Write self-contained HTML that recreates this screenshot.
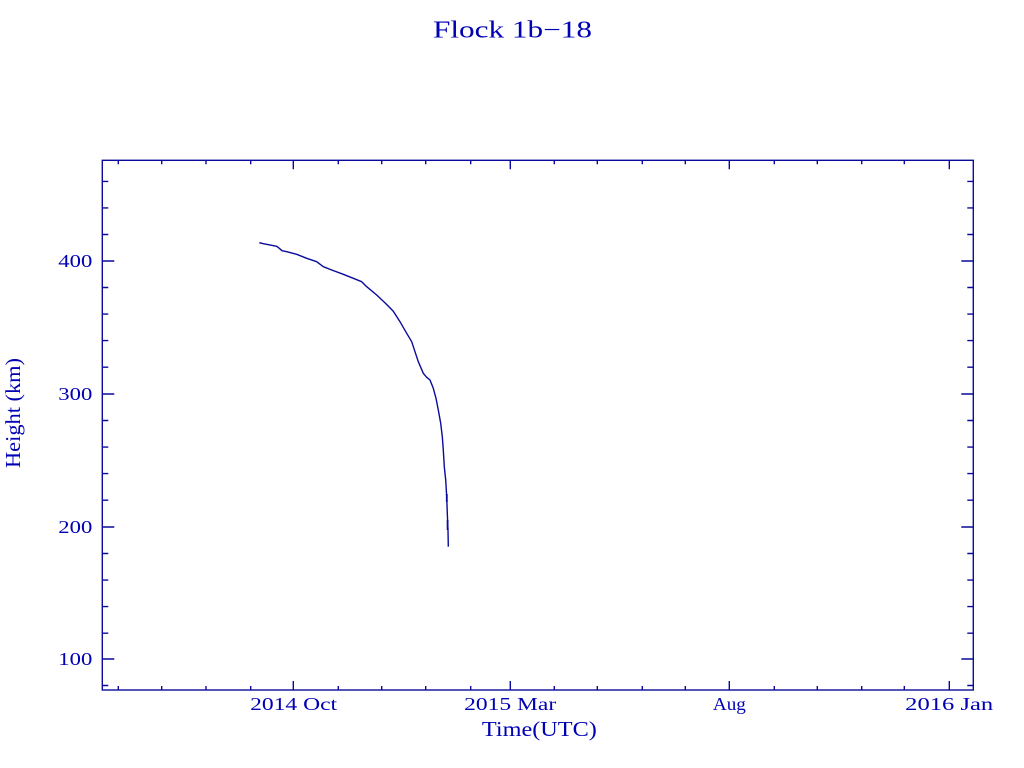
<!DOCTYPE html>
<html>
<head>
<meta charset="utf-8">
<style>
html,body{margin:0;padding:0;background:#fff;}
svg{display:block;}
text{font-family:"Liberation Serif","DejaVu Serif",serif;fill:#0000b4;}
</style>
</head>
<body>
<svg width="1024" height="768" viewBox="0 0 1024 768" xmlns="http://www.w3.org/2000/svg">
<rect x="0" y="0" width="1024" height="768" fill="#fff"/>
<text x="512.5" y="37.5" font-size="24" text-anchor="middle" textLength="159" lengthAdjust="spacingAndGlyphs">Flock 1b−18</text>

<g stroke="#0a0a9c" stroke-width="1.4" fill="none">
<rect x="102.3" y="160.3" width="871" height="529.7"/>
<path d="
M102.3 261 h12 M973.3 261 h-12
M102.3 394 h12 M973.3 394 h-12
M102.3 527 h12 M973.3 527 h-12
M102.3 659 h12 M973.3 659 h-12
M102.3 181.4 h6 M973.3 181.4 h-6
M102.3 207.9 h6 M973.3 207.9 h-6
M102.3 234.5 h6 M973.3 234.5 h-6
M102.3 287.5 h6 M973.3 287.5 h-6
M102.3 314.1 h6 M973.3 314.1 h-6
M102.3 340.6 h6 M973.3 340.6 h-6
M102.3 367.2 h6 M973.3 367.2 h-6
M102.3 420.5 h6 M973.3 420.5 h-6
M102.3 447.1 h6 M973.3 447.1 h-6
M102.3 473.6 h6 M973.3 473.6 h-6
M102.3 500.2 h6 M973.3 500.2 h-6
M102.3 553.5 h6 M973.3 553.5 h-6
M102.3 580.1 h6 M973.3 580.1 h-6
M102.3 606.6 h6 M973.3 606.6 h-6
M102.3 633.2 h6 M973.3 633.2 h-6
M102.3 685.5 h6 M973.3 685.5 h-6
"/>
<path d="
M293.3 690 v-9 M293.3 160.3 v9
M510.3 690 v-9 M510.3 160.3 v9
M729.3 690 v-9 M729.3 160.3 v9
M949.3 690 v-9 M949.3 160.3 v9
M118.3 690 v-4 M118.3 160.3 v4
M161.7 690 v-4 M161.7 160.3 v4
M206 690 v-4 M206 160.3 v4
M250.7 690 v-4 M250.7 160.3 v4
M338.3 690 v-4 M338.3 160.3 v4
M381.7 690 v-4 M381.7 160.3 v4
M425.7 690 v-4 M425.7 160.3 v4
M470.7 690 v-4 M470.7 160.3 v4
M554.3 690 v-4 M554.3 160.3 v4
M597.3 690 v-4 M597.3 160.3 v4
M642.3 690 v-4 M642.3 160.3 v4
M685.3 690 v-4 M685.3 160.3 v4
M774.3 690 v-4 M774.3 160.3 v4
M817.3 690 v-4 M817.3 160.3 v4
M861.7 690 v-4 M861.7 160.3 v4
M904.3 690 v-4 M904.3 160.3 v4
"/>
</g>

<g font-size="17.5" text-anchor="end">
<text x="92.3" y="267" textLength="34" lengthAdjust="spacingAndGlyphs">400</text>
<text x="92.3" y="400" textLength="34" lengthAdjust="spacingAndGlyphs">300</text>
<text x="92.3" y="533" textLength="34" lengthAdjust="spacingAndGlyphs">200</text>
<text x="92.3" y="665" textLength="34" lengthAdjust="spacingAndGlyphs">100</text>
</g>

<g font-size="17.5" text-anchor="middle">
<text x="293.6" y="710" textLength="87" lengthAdjust="spacingAndGlyphs">2014 Oct</text>
<text x="510.2" y="710" textLength="92" lengthAdjust="spacingAndGlyphs">2015 Mar</text>
<text x="729.4" y="710" textLength="33" lengthAdjust="spacingAndGlyphs">Aug</text>
<text x="949.2" y="710" textLength="88" lengthAdjust="spacingAndGlyphs">2016 Jan</text>
</g>

<text x="539.4" y="736" font-size="21" text-anchor="middle" textLength="115" lengthAdjust="spacingAndGlyphs">Time(UTC)</text>
<text transform="translate(20,413) rotate(-90)" x="0" y="0" font-size="21" text-anchor="middle" textLength="110" lengthAdjust="spacingAndGlyphs">Height (km)</text>

<polyline fill="none" stroke="#0a0a9c" stroke-width="1.4" stroke-linejoin="round" points="
259.3,242.7 263.3,243.7 271.7,245.3 276.7,246.3 279.3,248.3 282,250.7 286.7,251.7
296.7,254.3 306.7,258.3 316.7,261.7 323.3,266.7 331.7,270 343.3,274.3 353.3,278.3
361.7,281.7 366.7,286.7 376.7,295 386.7,304.5 393.3,311.3 400,321.7 406.7,333.3
411.7,341.7 415,351.7 418.3,361.7 423.3,373.3 426.7,377.3 430,380 433.3,388.3
436,398.3 438.3,410 440.7,423.3 442.3,436.7 443.3,450 444.3,466.7 445.7,480
446.7,496.7 447.3,513.3 448,530 448.3,546.7"/>
<path d="M446.8 494 v8 M447.6 520 v10" stroke="#0a0a9c" stroke-width="1.8" fill="none"/>
</svg>
</body>
</html>
